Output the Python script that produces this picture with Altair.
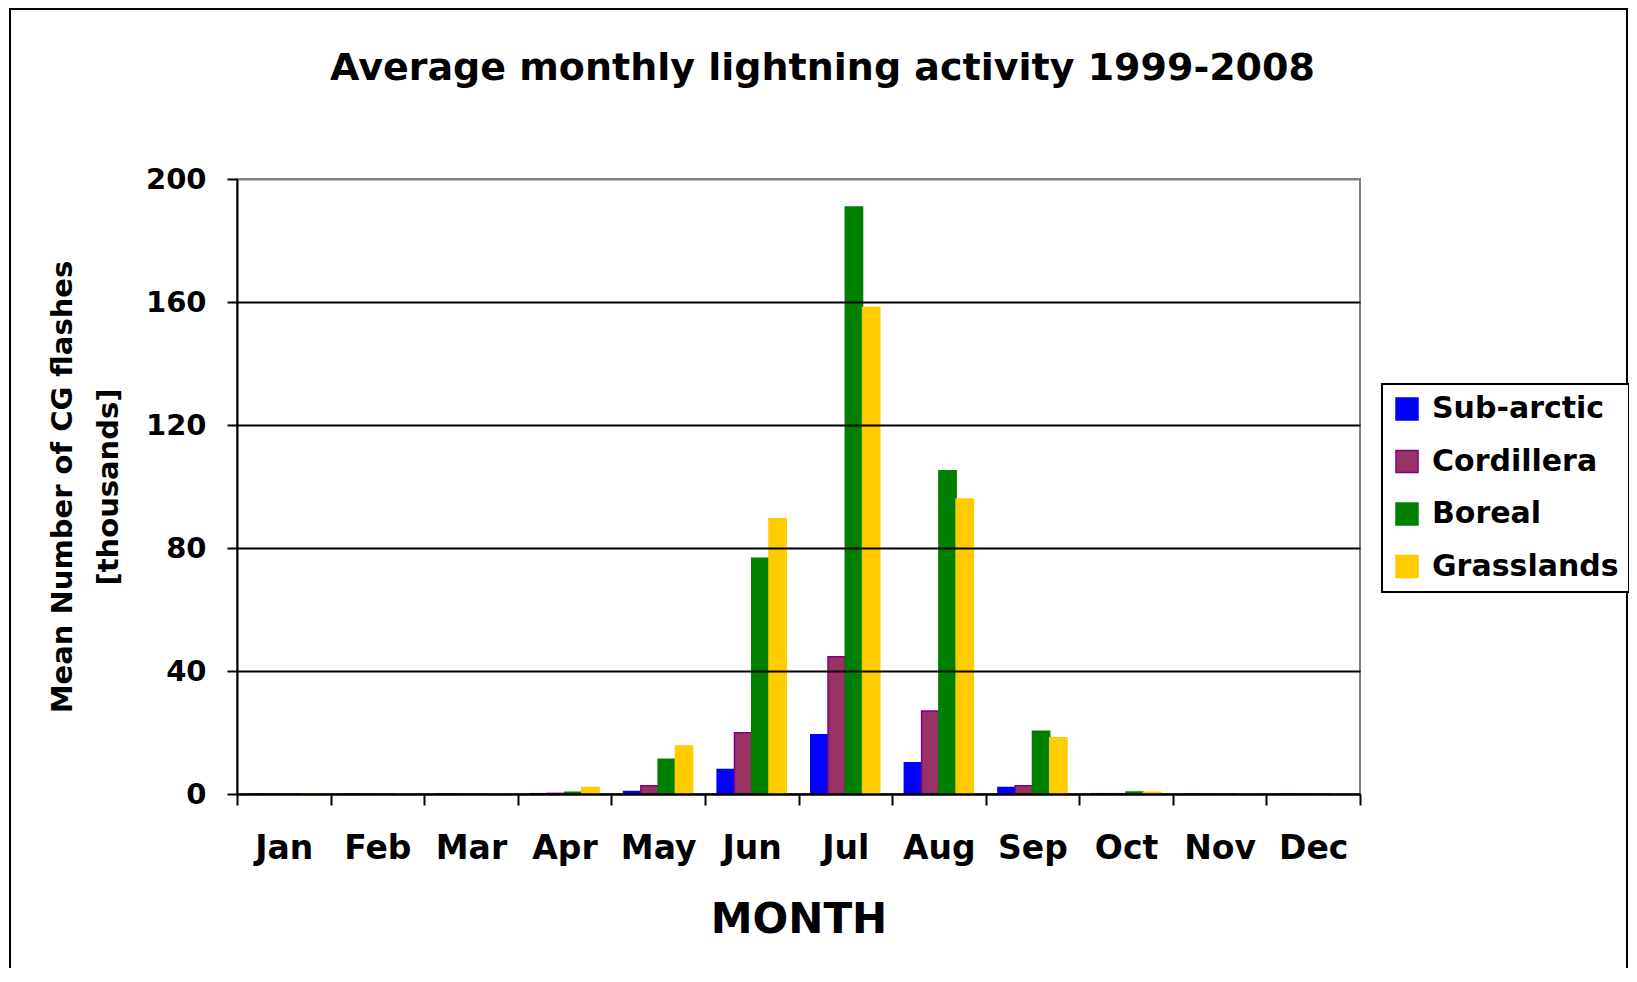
import altair as alt
import pandas as pd

months = ["Jan", "Feb", "Mar", "Apr", "May", "Jun", "Jul", "Aug", "Sep", "Oct", "Nov", "Dec"]
regions = ["Sub-arctic", "Cordillera", "Boreal", "Grasslands"]
sub_arctic = [0, 0, 0, 0.1, 0.8, 8.0, 19.3, 10.2, 2.1, 0.1, 0, 0]
cordillera = [0, 0, 0, 0.2, 2.7, 19.9, 44.6, 27.0, 2.7, 0.1, 0, 0]
boreal = [0, 0, 0, 0.6, 11.3, 76.7, 190.9, 105.1, 20.4, 0.65, 0, 0]
grasslands = [0, 0, 0, 2.1, 15.6, 89.5, 158.2, 95.9, 18.3, 0.6, 0, 0]
y_ticks = [0, 40, 80, 120, 160, 200]
fill_colors = ["#0000FF", "#993366", "#008000", "#FFCC00"]
stroke_colors = ["#0000FF", "#800080", "#008000", "#FFCC00"]

series = {"Sub-arctic": sub_arctic, "Cordillera": cordillera, "Boreal": boreal, "Grasslands": grasslands}
rows = []
for r in regions:
    for m, v in zip(months, series[r]):
        rows.append({"month": m, "region": r, "value": v})
df = pd.DataFrame(rows)

FONT = "DejaVu Sans"

legend_kw = dict(
    title=None, orient="none", legendX=1145, legendY=205,
    symbolType="square", symbolSize=484, symbolStrokeWidth=1.5,
    labelFont=FONT, labelFontWeight="bold", labelFontSize=30, labelColor="black",
    labelOffset=10, labelLimit=400, rowPadding=22.5, padding=10,
    strokeColor="black", fillColor="white",
)

bars = alt.Chart(df).mark_bar(strokeWidth=1.5).encode(
    x=alt.X("month:N", sort=months,
            scale=alt.Scale(paddingInner=0, paddingOuter=0),
            axis=alt.Axis(title="MONTH", labelAngle=0, tickBand="extent", grid=False,
                          labelFontSize=33, labelPadding=27, tickSize=11,
                          titleFontSize=42, titlePadding=34, zindex=1)),
    xOffset=alt.XOffset("region:N", sort=regions,
                        scale=alt.Scale(paddingInner=0, paddingOuter=0.71)),
    y=alt.Y("value:Q", scale=alt.Scale(domain=[0, 200], nice=False),
            axis=alt.Axis(values=y_ticks, title=["Mean Number of CG flashes", "[thousands]"],
                          labelFontSize=29, labelPadding=21, tickSize=10,
                          grid=True,
                          gridColor=alt.condition("datum.value == 200", alt.value("#808080"), alt.value("black")),
                          gridWidth=2,
                          titleFontSize=29, titleLineHeight=46,
                          titleX=-175, titleY=307.5, titleAngle=270,
                          titleAlign="center", titleBaseline="middle", zindex=1)),
    fill=alt.Fill("region:N", sort=regions,
                  scale=alt.Scale(domain=regions, range=fill_colors),
                  legend=alt.Legend(**legend_kw)),
    stroke=alt.Stroke("region:N", sort=regions,
                      scale=alt.Scale(domain=regions, range=stroke_colors),
                      legend=alt.Legend(**legend_kw)),
)

frame = alt.Chart(pd.DataFrame({"k": [0]})).mark_rect(
    filled=False, stroke="black", strokeWidth=2
).encode(
    x=alt.value(-227), x2=alt.value(1390), y=alt.value(-170), y2=alt.value(810)
)

chart = alt.layer(bars, frame).properties(
    width=1123, height=615,
    autosize="none",
    padding={"left": 229, "top": 171, "right": 269, "bottom": 174},
    title=alt.TitleParams(
        "Average monthly lightning activity 1999-2008",
        font=FONT, fontSize=38, fontWeight="bold", color="black",
        anchor="middle", frame="group", dx=24, dy=110, offset=0, baseline="alphabetic",
    ),
).configure_view(
    stroke="#808080", strokeWidth=2
).configure_axis(
    labelFont=FONT, labelFontWeight="bold", labelColor="black",
    titleFont=FONT, titleFontWeight="bold", titleColor="black",
    domainColor="black", domainWidth=2, tickColor="black", tickWidth=2,
).configure_legend(
    strokeWidth=2
)

chart.save("out.html", embed_options={"renderer": "svg", "actions": False})
